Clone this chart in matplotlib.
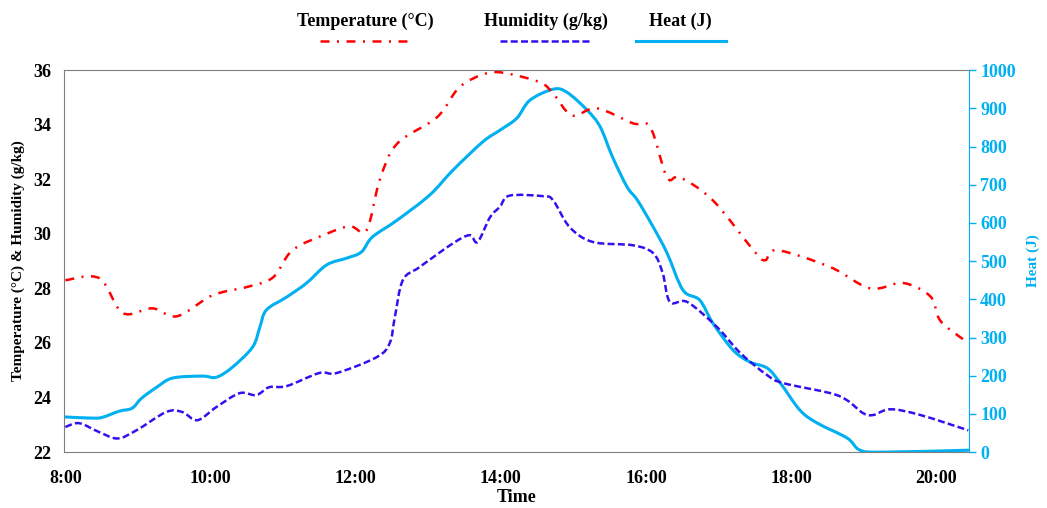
import matplotlib.pyplot as plt
from matplotlib.lines import Line2D
from matplotlib.path import Path
from matplotlib.patches import PathPatch

plt.rcParams['font.family'] = ['Liberation Serif', 'DejaVu Serif']
plt.rcParams['font.weight'] = 'bold'

# Datos (hora decimal)
temp_h = [8.0, 8.47, 8.79, 9.2, 9.54, 10.03, 10.5, 10.86, 11.13, 11.6, 11.92, 12.15,
          12.33, 12.57, 13.12, 13.43, 13.8, 14.08, 14.54, 14.72, 14.98, 15.32, 15.82,
          16.06, 16.29, 16.47, 16.92, 17.48, 17.64, 17.81, 18.54, 19.09, 19.54, 19.92,
          20.06, 20.44]
temp = [28.3, 28.37, 27.1, 27.27, 26.98, 27.75, 28.05, 28.4, 29.4, 30.0, 30.28, 30.13,
        31.96, 33.3, 34.27, 35.37, 35.88, 35.88, 35.55, 35.15, 34.34, 34.6, 34.05,
        33.9, 32.07, 32.07, 31.23, 29.4, 29.03, 29.4, 28.78, 28.0, 28.2, 27.7,
        26.8, 26.0]

hum_h = [8.0, 8.19, 8.47, 8.72, 8.98, 9.39, 9.61, 9.82, 10.08, 10.4, 10.63, 10.81,
         11.05, 11.5, 11.74, 12.29, 12.47, 12.54, 12.65, 12.88, 13.34, 13.57, 13.68,
         13.85, 13.99, 14.12, 14.58, 14.72, 14.95, 15.27, 15.82, 16.1, 16.23, 16.33,
         16.57, 16.98, 17.3, 17.67, 17.89, 18.54, 18.77, 18.99, 19.13, 19.37, 19.78,
         20.44]
hum = [22.92, 23.06, 22.73, 22.5, 22.8, 23.47, 23.47, 23.17, 23.65, 24.16, 24.09, 24.38,
       24.42, 24.9, 24.9, 25.48, 26.0, 26.95, 28.3, 28.78, 29.65, 29.95, 29.7,
       30.6, 31.0, 31.4, 31.38, 31.23, 30.24, 29.7, 29.58, 29.29, 28.56, 27.5,
       27.5, 26.58, 25.63, 24.82, 24.53, 24.16, 23.9, 23.43, 23.36, 23.57, 23.36,
       22.8]

heat_h = [8.0, 8.37, 8.51, 8.74, 8.92, 9.05, 9.26, 9.48, 9.89, 10.08, 10.3, 10.58,
          10.68, 10.77, 11.05, 11.32, 11.6, 11.88, 12.08, 12.23, 12.57, 13.02, 13.34,
          13.75, 13.99, 14.22, 14.4, 14.72, 14.91, 15.19, 15.37, 15.54, 15.74, 15.88,
          16.1, 16.29, 16.51, 16.74, 16.92, 17.2, 17.43, 17.67, 17.85, 18.12, 18.36,
          18.77, 18.95, 19.27, 20.44]
heat = [92, 89, 91, 107, 115, 141, 170, 194, 199, 196, 222, 275,
        327, 372, 406, 442, 490, 508, 524, 563, 607, 673, 738,
        812, 843, 874, 921, 950, 942, 895, 851, 772, 694, 660,
        589, 521, 424, 398, 338, 267, 236, 220, 181, 110, 76,
        37, 5, 0, 5]

xticks = [8, 10, 12, 14, 16, 18, 20]
xlabels = ['8:00', '10:00', '12:00', '14:00', '16:00', '18:00', '20:00']

red = '#FF0000'
blue = '#3311EE'
cyan = '#00B0F0'
grey = '#7F7F7F'


def curva_suave(x, y):
    # linea suavizada tipo Excel (Catmull-Rom como Bezier cubica)
    pts = list(zip(x, y))
    verts = [pts[0]]
    codes = [Path.MOVETO]
    n = len(pts)
    for i in range(n - 1):
        p0 = pts[max(i - 1, 0)]
        p1 = pts[i]
        p2 = pts[i + 1]
        p3 = pts[min(i + 2, n - 1)]
        c1 = (p1[0] + (p2[0] - p0[0]) / 6, p1[1] + (p2[1] - p0[1]) / 6)
        c2 = (p2[0] - (p3[0] - p1[0]) / 6, p2[1] - (p3[1] - p1[1]) / 6)
        verts += [c1, c2, p2]
        codes += [Path.CURVE4] * 3
    return Path(verts, codes)


fig = plt.figure(figsize=(10.47, 5.08), dpi=100)
ax = fig.add_axes([0.061, 0.110, 0.8645, 0.752])
ax2 = ax.twinx()

ax2.add_patch(PathPatch(curva_suave(heat_h, heat), fill=False, edgecolor=cyan, lw=2.2,
                        capstyle='round', joinstyle='round'))
ax.add_patch(PathPatch(curva_suave(temp_h, temp), fill=False, edgecolor=red, lw=1.8,
                       linestyle=(0, (3.6, 3, 0.8, 3))))
ax.add_patch(PathPatch(curva_suave(hum_h, hum), fill=False, edgecolor=blue, lw=1.8,
                       linestyle=(0, (2.8, 1.3))))
ax.set_zorder(ax2.get_zorder() + 1)
ax.patch.set_visible(False)

ax.set_xlim(7.98, 20.45)
ax.set_ylim(22, 36)
ax2.set_ylim(0, 1000)
ax.set_xticks(xticks)
ax.set_xticklabels(xlabels)
ax.set_yticks(range(22, 37, 2))
ax2.set_yticks(range(0, 1001, 100))

ax.tick_params(axis='x', length=0, pad=13, labelsize=13)
ax.tick_params(axis='y', length=0, pad=9, labelsize=13)
ax2.tick_params(axis='y', length=5, width=1, color=cyan, labelcolor=cyan,
                pad=3, labelsize=13)

for s in ['left', 'top', 'bottom']:
    ax2.spines[s].set_visible(False)
    ax.spines[s].set_color(grey)
ax.spines['right'].set_visible(False)
ax2.spines['right'].set_color(cyan)

ax.set_xlabel('Time', fontsize=13, fontweight='bold', labelpad=1)
ax.set_ylabel('Temperature (°C) & Humidity (g/kg)', fontsize=11, fontweight='bold', labelpad=6)
ax2.set_ylabel('Heat (J)', fontsize=11, fontweight='bold', color=cyan, labelpad=8)

# leyenda: texto arriba de cada muestra de linea
leg = [('Temperature (°C)', red, (0, (3.6, 3, 0.8, 3)), 1.8, 0.349),
       ('Humidity (g/kg)', blue, (0, (2.8, 1.3)), 1.8, 0.521),
       ('Heat (J)', cyan, '-', 2.2, 0.650)]
for txt, c, ls, lw, xc in leg:
    fig.text(xc, 0.958, txt, ha='center', va='center', fontsize=13, fontweight='bold')
    fig.add_artist(Line2D([xc - 0.043, xc + 0.043], [0.919, 0.919], color=c,
                          lw=lw, linestyle=ls, transform=fig.transFigure))

fig.savefig('out.png', dpi=100)
